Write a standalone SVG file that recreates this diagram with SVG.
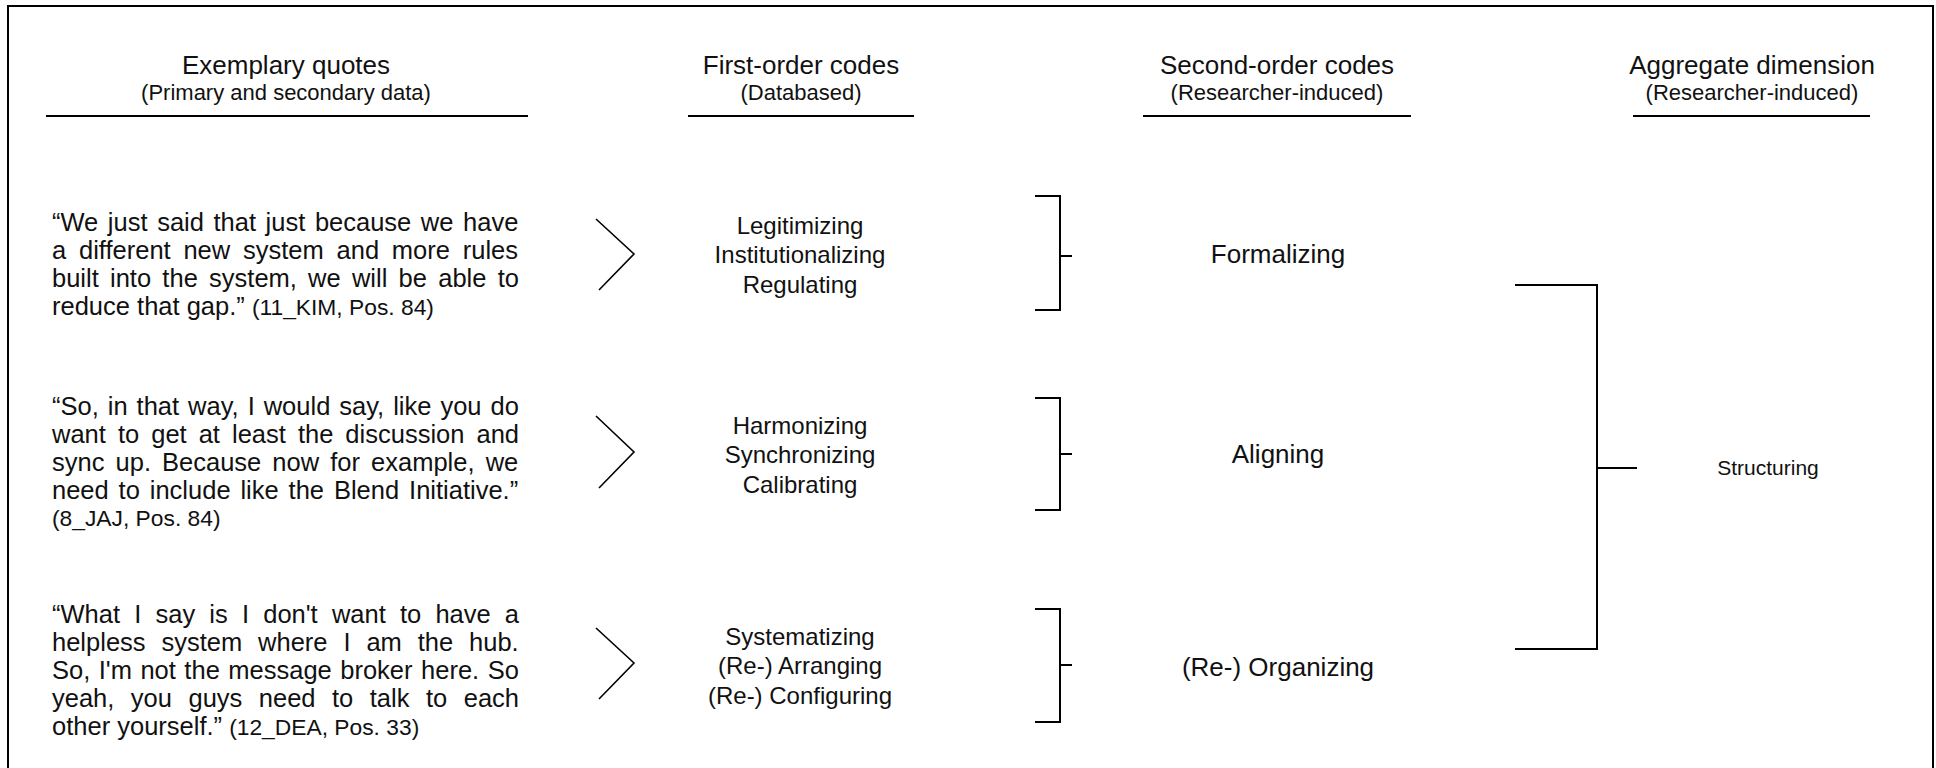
<svg xmlns="http://www.w3.org/2000/svg" width="1936" height="768" viewBox="0 0 1936 768">
  <style>
    text { font-family: "Liberation Sans", Arial, sans-serif; fill: #111; }
    .title { font-size: 26px; text-anchor: middle; }
    .sub { font-size: 22px; text-anchor: middle; }
    .quote { font-size: 25.5px; }
    .cite { font-size: 22.8px; }
    .code1 { font-size: 24px; text-anchor: middle; }
    .code2 { font-size: 26px; text-anchor: middle; }
    .agg { font-size: 21px; text-anchor: middle; }
    .rule { stroke: #000; stroke-width: 2; fill: none; }
    .link { stroke: #000; stroke-width: 2; fill: none; }
    .chev { stroke: #000; stroke-width: 1.6; fill: none; }
  </style>

  <!-- outer frame (open at the bottom) -->
  <rect x="8" y="6" width="1925" height="800" fill="#fff" stroke="#000" stroke-width="2"/>

  <!-- column headers -->
  <g id="header-quotes">
    <text class="title" x="286" y="74">Exemplary quotes</text>
    <text class="sub" x="286" y="100">(Primary and secondary data)</text>
    <line class="rule" x1="46" y1="116" x2="528" y2="116"/>
  </g>
  <g id="header-first-order">
    <text class="title" x="801" y="74">First-order codes</text>
    <text class="sub" x="801" y="100">(Databased)</text>
    <line class="rule" x1="688" y1="116" x2="914" y2="116"/>
  </g>
  <g id="header-second-order">
    <text class="title" x="1277" y="74">Second-order codes</text>
    <text class="sub" x="1277" y="100">(Researcher-induced)</text>
    <line class="rule" x1="1143" y1="116" x2="1411" y2="116"/>
  </g>
  <g id="header-aggregate">
    <text class="title" x="1752" y="74">Aggregate dimension</text>
    <text class="sub" x="1752" y="100">(Researcher-induced)</text>
    <line class="rule" x1="1633" y1="116" x2="1870" y2="116"/>
  </g>

  <!-- exemplary quotes: justified lines use word spacing -->
  <g id="quote-1">
    <text class="quote" x="52" y="231" word-spacing="2.5">“We just said that just because we have</text>
    <text class="quote" x="52" y="259" word-spacing="5.7">a different new system and more rules</text>
    <text class="quote" x="52" y="287" word-spacing="4.15">built into the system, we will be able to</text>
    <text class="quote" x="52" y="315">reduce that gap.” <tspan class="cite">(11_KIM, Pos. 84)</tspan></text>
  </g>
  <g id="quote-2">
    <text class="quote" x="52" y="415" word-spacing="1.9">“So, in that way, I would say, like you do</text>
    <text class="quote" x="52" y="443" word-spacing="4.95">want to get at least the discussion and</text>
    <text class="quote" x="52" y="471" word-spacing="4.0">sync up. Because now for example, we</text>
    <text class="quote" x="52" y="499" word-spacing="2.8">need to include like the Blend Initiative.”</text>
    <text class="cite" x="52" y="526">(8_JAJ, Pos. 84)</text>
  </g>
  <g id="quote-3">
    <text class="quote" x="52" y="623" word-spacing="7.1">“What I say is I don't want to have a</text>
    <text class="quote" x="52" y="651" word-spacing="8.8">helpless system where I am the hub.</text>
    <text class="quote" x="52" y="679" word-spacing="1.4">So, I'm not the message broker here. So</text>
    <text class="quote" x="52" y="707" word-spacing="9.4">yeah, you guys need to talk to each</text>
    <text class="quote" x="52" y="735">other yourself.” <tspan class="cite">(12_DEA, Pos. 33)</tspan></text>
  </g>

  <!-- first-order codes -->
  <g id="first-order-1">
    <text class="code1" x="800" y="234">Legitimizing</text>
    <text class="code1" x="800" y="263">Institutionalizing</text>
    <text class="code1" x="800" y="293">Regulating</text>
  </g>
  <g id="first-order-2">
    <text class="code1" x="800" y="434">Harmonizing</text>
    <text class="code1" x="800" y="463">Synchronizing</text>
    <text class="code1" x="800" y="493">Calibrating</text>
  </g>
  <g id="first-order-3">
    <text class="code1" x="800" y="645">Systematizing</text>
    <text class="code1" x="800" y="674">(Re-) Arranging</text>
    <text class="code1" x="800" y="704">(Re-) Configuring</text>
  </g>

  <!-- second-order codes -->
  <g id="second-order-1"><text class="code2" x="1278" y="263">Formalizing</text></g>
  <g id="second-order-2"><text class="code2" x="1278" y="463">Aligning</text></g>
  <g id="second-order-3"><text class="code2" x="1278" y="676">(Re-) Organizing</text></g>

  <!-- aggregate dimension -->
  <g id="aggregate"><text class="agg" x="1768" y="475">Structuring</text></g>

  <!-- connectors: chevrons and brackets -->
  <g id="connectors">
    <polyline class="chev" points="596,219 634,254 599,290"/>
    <polyline class="chev" points="596,416 634,452 599,488"/>
    <polyline class="chev" points="596,628 634,663 599,699"/>

    <path class="link" d="M1035,196 H1060 V310 H1035 M1060,256 H1072"/>
    <path class="link" d="M1035,398 H1060 V510 H1035 M1060,454 H1072"/>
    <path class="link" d="M1035,609 H1060 V722 H1035 M1060,665 H1072"/>

    <path class="link" d="M1515,285 H1597 V649 H1515 M1597,468 H1637"/>
  </g>
</svg>
